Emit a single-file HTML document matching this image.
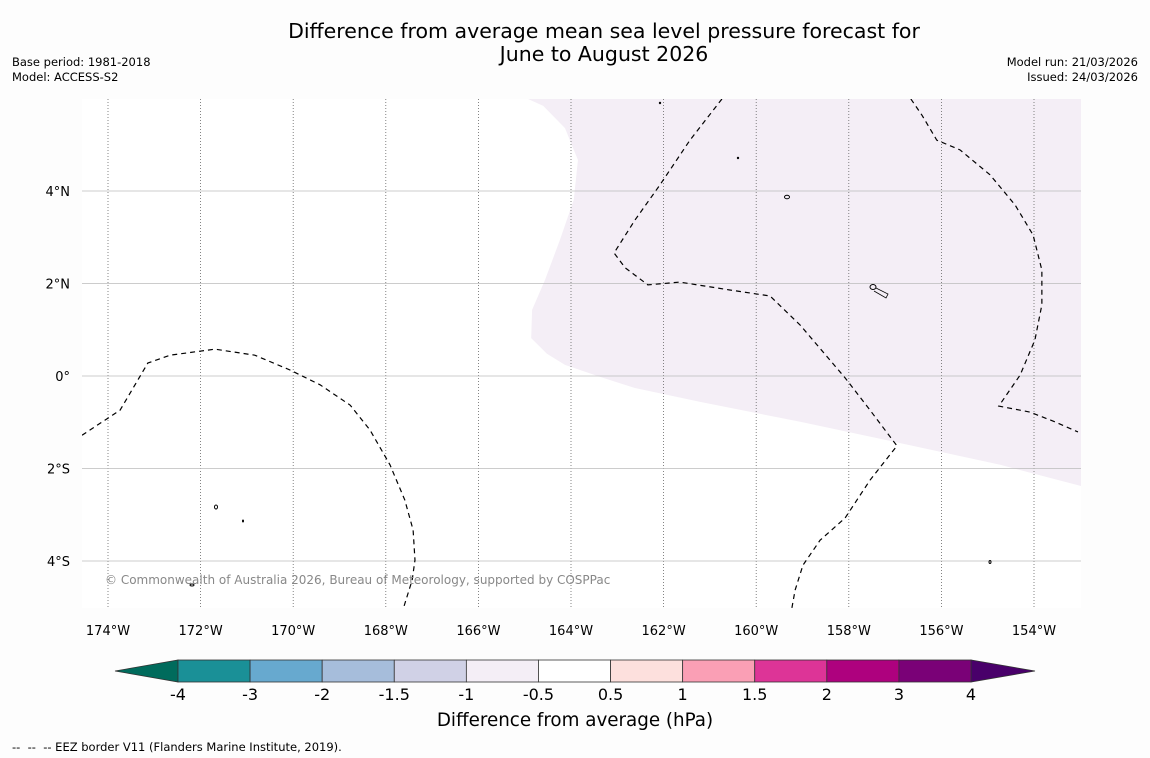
<!DOCTYPE html>
<html><head><meta charset="utf-8"><style>
body{margin:0;background:#fdfdfd;font-family:"Liberation Sans","DejaVu Sans",sans-serif;}
#wrap{position:relative;width:1150px;height:758px;overflow:hidden;}
</style></head><body>
<div id="wrap">
<svg id="svg" width="1150" height="758" xmlns="http://www.w3.org/2000/svg" font-family="DejaVu Sans, Liberation Sans, sans-serif">
<text x="604" y="38" font-size="20.5" text-anchor="middle">Difference from average mean sea level pressure forecast for</text>
<text x="604" y="61" font-size="20.5" text-anchor="middle">June to August 2026</text>
<text x="12" y="66" font-size="11.5">Base period: 1981-2018</text>
<text x="12" y="81" font-size="11.5">Model: ACCESS-S2</text>
<text x="1138" y="66" font-size="11.5" text-anchor="end">Model run: 21/03/2026</text>
<text x="1138" y="81" font-size="11.5" text-anchor="end">Issued: 24/03/2026</text>
<g id="map"></g>
<g id="cbar"></g>
<text x="575" y="726" font-size="18.3" text-anchor="middle">Difference from average (hPa)</text>
<text x="12" y="751" font-size="11.5" xml:space="preserve">--  --  -- EEZ border V11 (Flanders Marine Institute, 2019).</text>
</svg>
</div>
<script>
const lonTicks=[-174,-172,-170,-168,-166,-164,-162,-160,-158,-156,-154];
const latTicks=[4,2,0,-2,-4];
const levels=[-4,-3,-2,-1.5,-1,-0.5,0.5,1,1.5,2,3,4];
const levelLabels=["-4","-3","-2","-1.5","-1","-0.5","0.5","1","1.5","2","3","4"];
const colors=["#1a9097","#67a9cf","#a6bddb","#d0d1e6","#f4eef6","#ffffff","#fde0dd","#fa9fb5","#dd3497","#ae017e","#7a0177"];
const lowColor="#006b5c", highColor="#49006a";
const shadeLon=[-164.93,-164.60,-164.13,-163.85,-163.94,-164.24,-164.56,-164.84,-164.86,-164.52,-164.13,-163.37,-162.62,-161.21,-159.05,-156.89,-154.73,-152.98,-152.98];
const shadeLat=[5.99,5.84,5.36,4.67,3.81,2.94,2.08,1.43,0.82,0.48,0.24,-0.02,-0.26,-0.56,-0.99,-1.45,-1.92,-2.38,5.99];
const e1Lon=[-174.56,-173.74,-173.14,-172.66,-171.69,-170.83,-170.07,-169.42,-168.77,-168.34,-167.91,-167.59,-167.41,-167.37,-167.43,-167.61];
const e1Lat=[-1.28,-0.74,0.28,0.45,0.58,0.45,0.13,-0.19,-0.63,-1.17,-1.92,-2.68,-3.33,-3.98,-4.41,-4.99];
const e2Lon=[-160.74,-161.43,-162.08,-162.62,-163.07,-162.83,-162.34,-161.65,-160.57,-159.70,-159.05,-158.08,-157.54,-156.96,-157.54,-158.08,-158.62,-158.99,-159.16,-159.23];
const e2Lat=[5.99,5.10,4.13,3.37,2.66,2.34,1.97,2.03,1.86,1.73,1.10,-0.04,-0.74,-1.51,-2.25,-3.07,-3.55,-4.09,-4.63,-5.02];
const e3Lon=[-156.66,-156.42,-156.10,-155.60,-154.95,-154.41,-154.02,-153.83,-153.83,-153.98,-154.30,-154.76,-154.09,-153.55,-153.05];
const e3Lat=[5.99,5.64,5.10,4.89,4.35,3.70,3.05,2.29,1.54,0.78,0.02,-0.65,-0.78,-0.99,-1.21];
const X0=82,X1=1081,Y0=99,Y1=608;
const x=lon=>108+(lon+174)*46.3;
const y=lat=>376-lat*46.25;
const NS="http://www.w3.org/2000/svg";
function mk(t,a,p){const e=document.createElementNS(NS,t);for(const k in a)e.setAttribute(k,a[k]);p.appendChild(e);return e;}
const map=document.getElementById('map');
const bg=mk('rect',{x:X0,y:Y0,width:X1-X0,height:Y1-Y0,fill:'#fff'},map);


const cp=mk('clipPath',{id:'clip'},map);mk('rect',{x:X0,y:Y0,width:X1-X0,height:Y1-Y0},cp);
const g=mk('g',{'clip-path':'url(#clip)'},map);
const sh=mk('polygon',{points:shadeLon.map((l,i)=>x(l)+','+y(shadeLat[i])).join(' '),fill:'#f4eef6'},g);


lonTicks.forEach(l=>{
 const ln=mk('line',{x1:x(l),x2:x(l),y1:Y0,y2:Y1,stroke:'#666','stroke-width':0.8,'stroke-dasharray':'1,2'},g);
 
 
 const t=mk('text',{x:x(l),y:635,'font-size':13,'text-anchor':'middle'},map);
 t.textContent=Math.abs(l)+'°W';
 
 
});
latTicks.forEach(l=>{
 const ln=mk('line',{x1:X0,x2:X1,y1:y(l),y2:y(l),stroke:'#bbb','stroke-width':0.8},g);
 
 
 const t=mk('text',{x:70,y:y(l)+5,'font-size':13,'text-anchor':'end'},map);
 t.textContent=l===0?'0°':Math.abs(l)+'°'+(l>0?'N':'S');
 
 
});
[[e1Lon,e1Lat],[e2Lon,e2Lat],[e3Lon,e3Lat]].forEach(([lo,la])=>{
 const p=mk('polyline',{points:lo.map((l,i)=>x(l)+','+y(la[i])).join(' '),fill:'none',stroke:'#000','stroke-width':1.2,'stroke-dasharray':'5,4'},g);
 
 
});
[[787,197,2.5,1.8],[873,287,3,2.5],[216,507,1.5,2],[192,585,2,1],[990,562,1,1.5],[660,103,0.7,0.7],[738,158,0.7,0.7],[243,521,0.5,1]].forEach(a=>{
 const e=mk('ellipse',{cx:a[0],cy:a[1],rx:a[2],ry:a[3],fill:'none',stroke:'#000','stroke-width':1},g);
 
 
});
mk('polyline',{points:'876,288 888,294 886,298 874,291',fill:'none',stroke:'#000','stroke-width':0.8},g);
const cr=mk('text',{x:105,y:584,'font-size':12,fill:'#888'},map);
cr.textContent='© Commonwealth of Australia 2026, Bureau of Meteorology, supported by COSPPac';


const cb=document.getElementById('cbar');
const cx0=178,cw=(971-178)/colors.length,cy0=660,ch=22;
const lt=mk('polygon',{points:`115,671 ${cx0},${cy0} ${cx0},${cy0+ch}`,fill:lowColor,stroke:'#333','stroke-width':0.8},cb);


const rt=mk('polygon',{points:`1035,671 971,${cy0} 971,${cy0+ch}`,fill:highColor,stroke:'#333','stroke-width':0.8},cb);


colors.forEach((c,i)=>{
 const r=mk('rect',{x:cx0+i*cw,y:cy0,width:cw,height:ch,fill:c,stroke:'#333','stroke-width':0.8},cb);
 
 
});
levels.forEach((v,i)=>{
 const t=mk('text',{x:cx0+i*cw,y:700,'font-size':16,'text-anchor':'middle'},cb);
 t.textContent=levelLabels[i];
 
 
});
</script>
</body></html>
